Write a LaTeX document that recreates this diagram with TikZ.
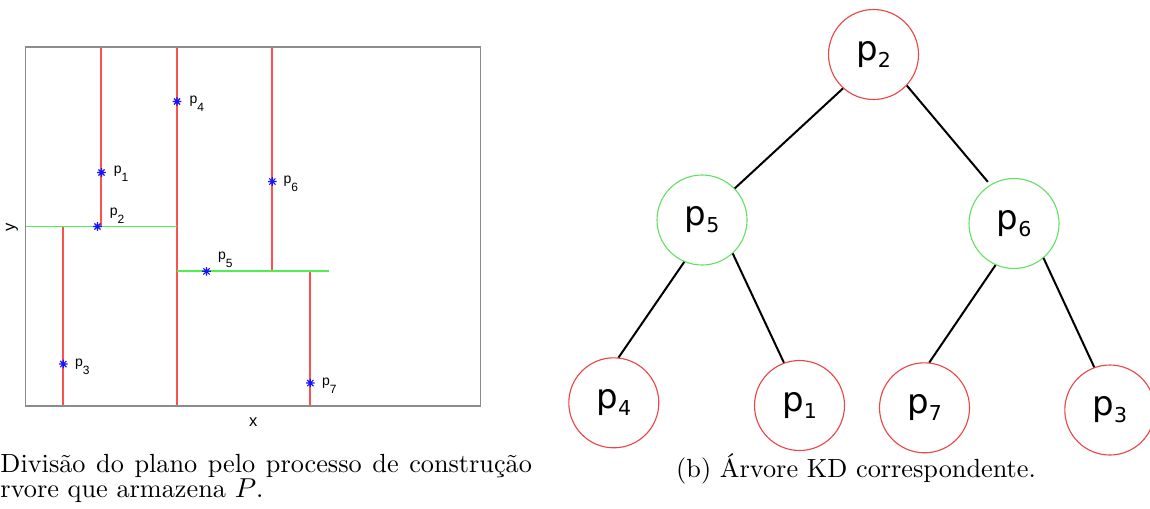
\documentclass[tikz,border=0pt]{standalone}
\usepackage{fontspec}
\newfontfamily\plotfont{Liberation Sans}
\newfontfamily\treefont{DejaVu Sans}
\definecolor{cutred}{RGB}{255,80,80}
\definecolor{cutgreen}{RGB}{80,238,80}
\definecolor{axisgray}{RGB}{140,140,140}
\definecolor{ptblue}{RGB}{20,20,255}
\definecolor{nodered}{RGB}{235,70,70}
\definecolor{nodegreen}{RGB}{100,225,100}
% point labels in the plane (small sans, subscripted index)
\newcommand\plbl[1]{{\plotfont\fontsize{5.6pt}{6pt}\selectfont p\raisebox{-3.2pt}{\fontsize{4.8pt}{5pt}\selectfont #1}}}
% labels inside the tree nodes
\newcommand\tlbl[1]{{\treefont\fontsize{13.6pt}{15pt}\selectfont p\raisebox{-2.8pt}{\fontsize{8.2pt}{9pt}\selectfont #1}}}
\begin{document}
\begin{tikzpicture}[x=0.4pt,y=-0.4pt,
  cut/.style={line width=0.72pt},
  vcut/.style={cut,draw=cutred},
  hcut/.style={cut,draw=cutgreen},
  ast/.pic={\draw[ptblue,line width=0.45pt] (-4.3,0)--(4.3,0) (0,-4.3)--(0,4.3)
            (-3.1,-3.1)--(3.1,3.1) (-3.1,3.1)--(3.1,-3.1);},
  plabel/.style={anchor=base west,inner sep=0pt},
  tnode/.style={circle,minimum size=36pt,inner sep=0pt,line width=0.45pt},
  xnode/.style={tnode,draw=nodered},
  ynode/.style={tnode,draw=nodegreen},
  edge/.style={line width=0.8pt,black},
  caption/.style={inner sep=0pt,font=\fontsize{10.5pt}{12.6pt}\selectfont}]
\useasboundingbox (0,0) rectangle (1150,508);

% ---------- partition of the plane ----------
\coordinate (bl) at (25.5,406);
\coordinate (tr) at (480.5,47);
% split lines
\draw[vcut] (101.3,47) -- (101.3,226.5);
\draw[vcut] (177,47) -- (177,406);
\draw[vcut] (272.3,47) -- (272.3,271.3);
\draw[vcut] (310.3,271.3) -- (310.3,406);
\draw[vcut] (63.3,226.5) -- (63.3,406);
\draw[hcut] (25.5,226.5) -- (177,226.5);
\draw[hcut] (177,271.3) -- (329,271.3);
% frame
\draw[axisgray,line width=0.6pt] (bl) rectangle (tr);

% points
\coordinate (q1) at (101.5,172.5);
\coordinate (q2) at (97.5,226.5);
\coordinate (q3) at (63.3,364);
\coordinate (q4) at (177,101.5);
\coordinate (q5) at (206.5,271.3);
\coordinate (q6) at (272.3,181.5);
\coordinate (q7) at (310.3,383);
\foreach \i in {1,...,7} \pic at (q\i) {ast};

\node[plabel] (l1) at (113.3,173.7) {\plbl{1}};
\node[plabel] (l2) at (109.3,215.3) {\plbl{2}};
\node[plabel] (l3) at (74.7,366.3) {\plbl{3}};
\node[plabel] (l4) at (189,103.7) {\plbl{4}};
\node[plabel] (l5) at (217.7,259.7) {\plbl{5}};
\node[plabel] (l6) at (283,183.7) {\plbl{6}};
\node[plabel] (l7) at (321.7,385.3) {\plbl{7}};

% axis names
\node[anchor=base,inner sep=0pt,font=\plotfont\fontsize{6.6pt}{7pt}\selectfont] (xl) at (253.3,426) {x};
\node[rotate=90,inner sep=0pt,font=\plotfont\fontsize{6.6pt}{7pt}\selectfont] (yl) at (12,227) {y};

% caption of the left panel
\node[caption,anchor=base west] (capa1) at (0,472) {\makebox[212.6pt][s]{Divisão do plano pelo processo de construção}};
\node[caption,anchor=base west] (capa2) at (0,497) {rvore que armazena $P$.};

% ---------- KD tree ----------
\node[xnode] (p2) at (873.5,54.5) {\tlbl{2}};
\node[ynode] (p5) at (702,220) {\tlbl{5}};
\node[ynode] (p6) at (1014,223.5) {\tlbl{6}};
\node[xnode] (p4) at (613.8,402.8) {\tlbl{4}};
\node[xnode] (p1) at (799.5,405.5) {\tlbl{1}};
\node[xnode] (p7) at (924.5,407.8) {\tlbl{7}};
\node[xnode] (p3) at (1109.8,410) {\tlbl{3}};

\draw[edge] (p2.228) -- (p5.44);
\draw[edge] (p2.317) -- ([shift={(-2,-3)}]p6.122);
\draw[edge] (p5.247) -- (p4.84);
\draw[edge] ([shift={(2,-2)}]p5.309) -- (p1.110);
\draw[edge] (p6.246) -- (p7.84);
\draw[edge] ([shift={(2,-2)}]p6.307) -- (p3.110);

\node[caption,anchor=base] (capb) at (856,477) {(b) Árvore KD correspondente.};
\end{tikzpicture}
\end{document}
